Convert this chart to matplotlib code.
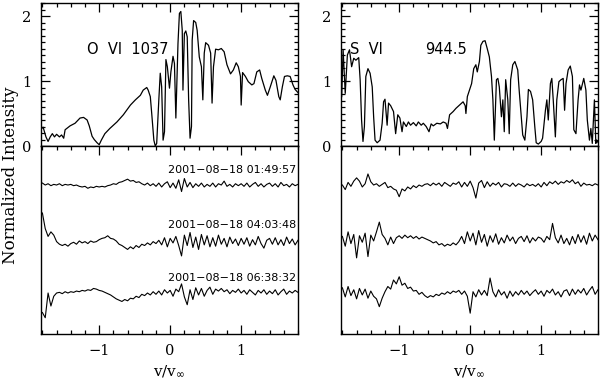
import numpy as np
import matplotlib.pyplot as plt

INK = "black"

# ---------------- top panels: line profiles (v/v_inf, normalized intensity) ----------------
ovi_v = [-1.81, -1.79, -1.75, -1.72, -1.69, -1.66, -1.63, -1.60, -1.56, -1.53,
         -1.50, -1.48, -1.41, -1.34, -1.27, -1.22, -1.17, -1.14, -1.10, -1.07,
         -1.03, -1.00, -0.97, -0.92, -0.85, -0.75, -0.66, -0.56, -0.49, -0.42,
         -0.38, -0.33, -0.31, -0.28, -0.26, -0.23, -0.21, -0.19, -0.16, -0.14,
         -0.12, -0.10, -0.08, -0.06, -0.04, -0.01, 0.01, 0.04, 0.06, 0.08,
         0.11, 0.13, 0.15, 0.17, 0.18, 0.20, 0.22, 0.24, 0.26, 0.28,
         0.30, 0.31, 0.33, 0.36, 0.38, 0.41, 0.44, 0.46, 0.48, 0.50,
         0.54, 0.57, 0.59, 0.61, 0.64, 0.68, 0.72, 0.76, 0.80, 0.85,
         0.89, 0.93, 0.96, 0.99, 1.00, 1.02, 1.06, 1.10, 1.15, 1.18,
         1.22, 1.26, 1.29, 1.34, 1.37, 1.41, 1.46, 1.49, 1.53, 1.55,
         1.58, 1.61, 1.65, 1.69, 1.73, 1.76, 1.81]
ovi_i = [0.27, 0.29, 0.14, 0.07, 0.14, 0.19, 0.14, 0.18, 0.14, 0.17,
         0.12, 0.25, 0.31, 0.35, 0.43, 0.44, 0.40, 0.31, 0.15, 0.10,
         0.05, 0.02, 0.09, 0.19, 0.27, 0.37, 0.48, 0.63, 0.71, 0.78,
         0.86, 0.90, 0.86, 0.76, 0.50, 0.09, 0.00, 0.04, 0.71, 1.12,
         0.91, 0.09, 0.22, 1.33, 1.22, 0.89, 1.14, 1.38, 1.27, 0.43,
         1.58, 2.04, 2.07, 1.78, 0.86, 1.73, 1.77, 1.68, 0.71, 0.12,
         0.30, 1.63, 1.93, 1.90, 1.78, 1.37, 1.22, 0.71, 1.43, 1.59,
         1.55, 1.43, 0.66, 1.22, 1.49, 1.48, 1.50, 1.45, 1.25, 1.11,
         1.17, 1.28, 1.22, 1.07, 0.63, 1.13, 1.07, 0.99, 0.94, 0.96,
         1.14, 1.17, 1.04, 0.86, 0.78, 0.91, 1.08, 1.01, 0.76, 0.71,
         0.91, 1.07, 1.08, 1.07, 0.94, 0.87, 0.81]

svi_v = [-1.81, -1.79, -1.76, -1.73, -1.70, -1.67, -1.64, -1.61, -1.57, -1.55,
         -1.53, -1.51, -1.49, -1.47, -1.44, -1.41, -1.38, -1.36, -1.34, -1.31,
         -1.27, -1.24, -1.22, -1.20, -1.17, -1.15, -1.12, -1.08, -1.05, -1.02,
         -0.99, -0.96, -0.94, -0.90, -0.87, -0.84, -0.80, -0.76, -0.73, -0.69,
         -0.66, -0.62, -0.58, -0.55, -0.52, -0.47, -0.42, -0.38, -0.34, -0.32,
         -0.29, -0.24, -0.20, -0.15, -0.10, -0.07, -0.06, -0.04, -0.01, 0.02,
         0.05, 0.08, 0.10, 0.13, 0.15, 0.18, 0.21, 0.24, 0.27, 0.30,
         0.32, 0.34, 0.37, 0.39, 0.41, 0.44, 0.46, 0.48, 0.50, 0.53,
         0.55, 0.57, 0.60, 0.63, 0.67, 0.69, 0.72, 0.74, 0.77, 0.80,
         0.82, 0.85, 0.88, 0.91, 0.93, 0.96, 1.00, 1.02, 1.06, 1.08,
         1.10, 1.13, 1.15, 1.17, 1.20, 1.22, 1.25, 1.28, 1.31, 1.33,
         1.35, 1.38, 1.41, 1.44, 1.46, 1.49, 1.52, 1.54, 1.56, 1.60,
         1.63, 1.65, 1.68, 1.70, 1.72, 1.75, 1.77, 1.78, 1.81]
svi_i = [0.76, 1.48, 0.81, 1.40, 1.48, 1.22, 1.35, 1.32, 1.36, 1.02,
         0.40, 0.07, 0.30, 1.07, 1.19, 1.12, 0.91, 0.45, 0.09, 0.05,
         0.09, 0.35, 0.68, 0.72, 0.32, 0.66, 0.62, 0.53, 0.19, 0.48,
         0.43, 0.22, 0.37, 0.30, 0.37, 0.32, 0.36, 0.31, 0.37, 0.32,
         0.35, 0.30, 0.22, 0.34, 0.31, 0.35, 0.34, 0.37, 0.35, 0.27,
         0.48, 0.53, 0.58, 0.63, 0.68, 0.62, 0.50, 0.76, 0.86, 0.96,
         1.19, 1.25, 1.14, 1.30, 1.55, 1.61, 1.62, 1.50, 1.37, 1.07,
         0.71, 0.09, 1.02, 1.04, 0.91, 0.45, 0.71, 0.22, 1.02, 0.71,
         0.19, 1.02, 1.25, 1.30, 1.17, 0.86, 0.45, 0.17, 0.09, 0.45,
         0.87, 0.84, 0.71, 0.30, 0.05, 0.03, 0.07, 0.12, 0.55, 0.71,
         0.40, 0.96, 1.04, 0.71, 0.14, 0.71, 0.99, 1.02, 1.04, 0.55,
         0.96, 1.17, 1.23, 1.07, 0.25, 0.19, 0.71, 0.94, 0.86, 1.04,
         0.86, 0.40, 0.09, 0.27, 0.04, 0.71, 0.04, 0.09, 0.04]

# ---------------- bottom panels: residual spectra, one per exposure ----------------
times = ["2001\u221208\u221218 01:49:57",
         "2001\u221208\u221218 04:03:48",
         "2001\u221208\u221218 06:38:32"]
res_v = np.linspace(-1.80, 1.80, 91)

ovi_res = [
    [0.03, 0.00, 0.02, -0.01, 0.01, 0.00, 0.02, -0.01, 0.01, 0.00,
     0.01, -0.01, 0.00, -0.02, -0.03, -0.02, -0.05, -0.03, -0.04, -0.02,
     -0.03, -0.02, -0.03, -0.01, 0.00, 0.02, 0.01, 0.04, 0.05, 0.07,
     0.09, 0.06, 0.07, 0.04, 0.05, 0.02, 0.00, 0.03, -0.01, 0.02,
     -0.02, 0.03, -0.03, 0.02, 0.05, -0.04, 0.03, -0.05, 0.08, -0.10,
     0.10, -0.03, 0.04, -0.04, 0.02, -0.02, 0.03, -0.03, 0.01, -0.02,
     0.03, -0.03, 0.02, 0.00, 0.06, -0.02, 0.01, -0.03, 0.02, -0.01,
     0.02, -0.02, 0.03, -0.03, 0.01, 0.04, -0.02, 0.02, -0.03, 0.01,
     0.03, -0.02, 0.02, -0.03, 0.04, -0.01, 0.01, -0.03, 0.02, -0.01, 0.01],
    [0.44, 0.20, 0.08, 0.15, 0.10, 0.00, -0.04, -0.06, -0.04, -0.07,
     -0.03, -0.01, -0.04, 0.01, -0.02, 0.00, -0.03, 0.01, -0.01, 0.00,
     0.03, 0.05, 0.06, 0.09, 0.05, 0.04, 0.01, -0.04, -0.06, -0.09,
     -0.12, -0.08, -0.11, -0.06, -0.09, -0.04, -0.06, -0.02, -0.05, 0.00,
     -0.03, 0.02, -0.05, 0.06, -0.08, 0.05, -0.02, 0.08, -0.06, -0.22,
     0.10, -0.06, 0.14, -0.09, 0.07, -0.12, 0.11, -0.05, 0.09, -0.08,
     0.06, -0.07, 0.10, -0.04, 0.05, -0.08, 0.07, -0.03, 0.04, -0.06,
     0.05, -0.04, 0.06, -0.07, 0.03, -0.05, 0.08, -0.03, -0.10, 0.02,
     0.05, -0.04, 0.06, -0.05, 0.03, -0.06, 0.07, -0.03, 0.04, -0.05, 0.02],
    [-0.30, -0.38, 0.00, -0.20, -0.05, 0.00, 0.01, -0.01, 0.02, 0.00,
     0.02, 0.01, 0.03, 0.02, 0.04, 0.03, 0.05, 0.04, 0.07, 0.06,
     0.04, 0.03, 0.01, -0.01, -0.03, -0.06, -0.09, -0.11, -0.13, -0.10,
     -0.12, -0.08, -0.09, -0.05, -0.07, -0.02, -0.04, 0.00, -0.03, 0.02,
     -0.02, 0.03, -0.03, 0.05, 0.00, 0.04, -0.05, 0.06, 0.02, 0.14,
     -0.06, -0.18, 0.05, -0.10, 0.08, -0.03, 0.07, -0.05, 0.04, 0.09,
     -0.02, 0.06, 0.03, 0.07, 0.02, 0.05, -0.01, 0.04, 0.01, 0.06,
     0.00, 0.04, -0.02, 0.05, 0.01, -0.03, 0.04, 0.00, 0.05, -0.02,
     0.03, -0.01, 0.05, -0.03, 0.02, 0.06, -0.02, 0.03, 0.00, 0.04, 0.01],
]
svi_res = [
    [0.00, -0.07, 0.04, -0.02, 0.06, 0.11, 0.06, -0.03, 0.02, 0.17,
     0.05, 0.00, 0.02, -0.02, 0.01, 0.04, -0.04, -0.02, -0.06, -0.08,
     -0.18, -0.06, -0.09, -0.03, -0.06, -0.01, -0.04, 0.00, -0.02, 0.01,
     0.02, -0.01, 0.03, 0.00, 0.03, -0.02, 0.04, 0.01, -0.02, 0.03,
     0.01, 0.05, -0.03, 0.04, -0.02, 0.06, -0.04, -0.20, 0.03, 0.07,
     -0.04, 0.05, -0.02, 0.03, 0.00, 0.04, -0.03, 0.02, 0.01, -0.02,
     0.03, -0.02, 0.02, 0.00, -0.03, 0.02, -0.01, 0.01, -0.02, 0.02,
     -0.03, 0.04, -0.01, 0.05, 0.02, 0.06, 0.01, 0.05, 0.03, 0.07,
     0.04, 0.08, 0.02, 0.05, -0.02, 0.03, 0.00, 0.01, -0.01, 0.02, 0.00],
    [0.05, -0.10, 0.12, -0.06, 0.08, -0.28, 0.06, -0.04, 0.10, -0.26,
     0.07, -0.02, 0.12, 0.27, 0.08, 0.02, -0.08, 0.04, -0.06, 0.03,
     0.06, 0.02, 0.07, 0.03, 0.06, 0.02, 0.05, 0.01, 0.04, 0.02,
     0.00, -0.02, -0.05, -0.03, -0.08, -0.06, -0.10, -0.07, -0.09, -0.05,
     -0.08, -0.03, 0.05, -0.06, 0.12, -0.02, 0.10, -0.08, 0.14, -0.04,
     0.08, -0.10, 0.06, -0.04, 0.09, -0.07, 0.03, -0.05, 0.07, -0.02,
     0.04, -0.06, 0.02, 0.05, -0.03, 0.06, -0.05, 0.03, -0.02, 0.04,
     0.02, -0.04, 0.05, 0.00, 0.25, 0.03, -0.05, 0.07, -0.06, 0.02,
     -0.08, 0.05, -0.06, 0.08, -0.04, 0.06, -0.07, 0.10, -0.02, 0.07, 0.00],
    [0.08, -0.06, 0.10, -0.04, 0.05, -0.09, 0.07, -0.03, 0.06, -0.08,
     0.03, -0.05, -0.09, -0.21, -0.08, 0.02, 0.10, 0.06, 0.20, 0.14,
     0.25, 0.12, 0.15, 0.07, 0.09, 0.03, 0.04, -0.02, 0.01, -0.04,
     -0.07, -0.04, -0.06, -0.02, -0.04, 0.00, -0.02, 0.02, -0.01, 0.03,
     0.01, 0.04, -0.02, 0.03, -0.05, -0.31, 0.02, -0.06, 0.05, -0.03,
     0.04, -0.04, 0.23, 0.02, -0.06, 0.05, -0.03, 0.02, -0.08, 0.03,
     -0.05, 0.02, -0.03, 0.04, -0.02, 0.03, -0.04, 0.01, 0.05, -0.02,
     0.03, -0.05, 0.04, 0.00, 0.06, -0.03, 0.02, -0.06, 0.03, 0.05,
     -0.04, 0.06, -0.02, 0.05, 0.00, 0.07, -0.03, 0.04, 0.10, -0.02, 0.05],
]
offsets_l = [2.29, 1.42, 0.63]
offsets_r = [2.29, 1.45, 0.63]

plt.rcParams["font.family"] = ["DejaVu Serif"]

fig = plt.figure(figsize=(6.0, 3.82), dpi=100)
fig.patch.set_facecolor("white")

L, R, W = 0.0683, 0.5683, 0.4283
axTL = fig.add_axes([L, 0.6178, W, 0.3743])
axTR = fig.add_axes([R, 0.6178, W, 0.3743])
axBL = fig.add_axes([L, 0.1257, W, 0.4921])
axBR = fig.add_axes([R, 0.1257, W, 0.4921])


def _frame(ax, top):
    ax.set_xlim(-1.82, 1.80)
    ax.set_xticks([-1, 0, 1])
    ax.set_xticks(np.arange(-1.8, 1.81, 0.2), minor=True)
    for s in ax.spines.values():
        s.set_linewidth(1.0)
    ax.tick_params(which="both", direction="in", colors=INK, labelsize=10.5,
                   width=0.9)
    ax.tick_params(which="major", length=6.5)
    ax.tick_params(which="minor", length=3.2)
    if top:
        ax.set_ylim(0, 2.2)
        ax.set_yticks([0, 1, 2])
        ax.set_yticks(np.arange(0, 2.21, 0.1), minor=True)
        ax.tick_params(which="both", top=True, bottom=False, left=True,
                       right=True, labelbottom=False, pad=7)
    else:
        ax.set_ylim(0, 2.89)
        ax.set_yticks([])
        ax.tick_params(which="both", top=True, bottom=True, left=False,
                       right=False, pad=7)
        ax.set_xticklabels(["\u22121", "0", "1"])
        ax.set_xlabel(r"v/v$_{\infty}$", fontsize=11, labelpad=4)


axTL.plot(ovi_v, ovi_i, color=INK, lw=0.9)
axTL.text(-1.165, 1.48, "O  VI  1037", fontsize=10.5, va="center",
          family="DejaVu Sans")
_frame(axTL, True)

axTR.plot(svi_v, svi_i, color=INK, lw=0.9)
axTR.text(-1.69, 1.48, "S  VI", fontsize=10.5, va="center", family="DejaVu Sans")
axTR.text(-0.63, 1.48, "944.5", fontsize=10.5, va="center", family="DejaVu Sans")
_frame(axTR, True)

for res, off in zip(ovi_res, offsets_l):
    axBL.plot(res_v, off + np.array(res), color=INK, lw=0.8)
for t, ty in zip(times, [2.52, 1.68, 0.86]):
    axBL.text(1.77, ty, t, ha="right", va="center", fontsize=8,
              family="DejaVu Sans")
_frame(axBL, False)

for res, off in zip(svi_res, offsets_r):
    axBR.plot(res_v, off + np.array(res), color=INK, lw=0.8)
_frame(axBR, False)

fig.text(0.018, 0.542, "Normalized Intensity", rotation=90, ha="center",
         va="center", fontsize=12)

fig.savefig("out.png", dpi=100, facecolor="white")
